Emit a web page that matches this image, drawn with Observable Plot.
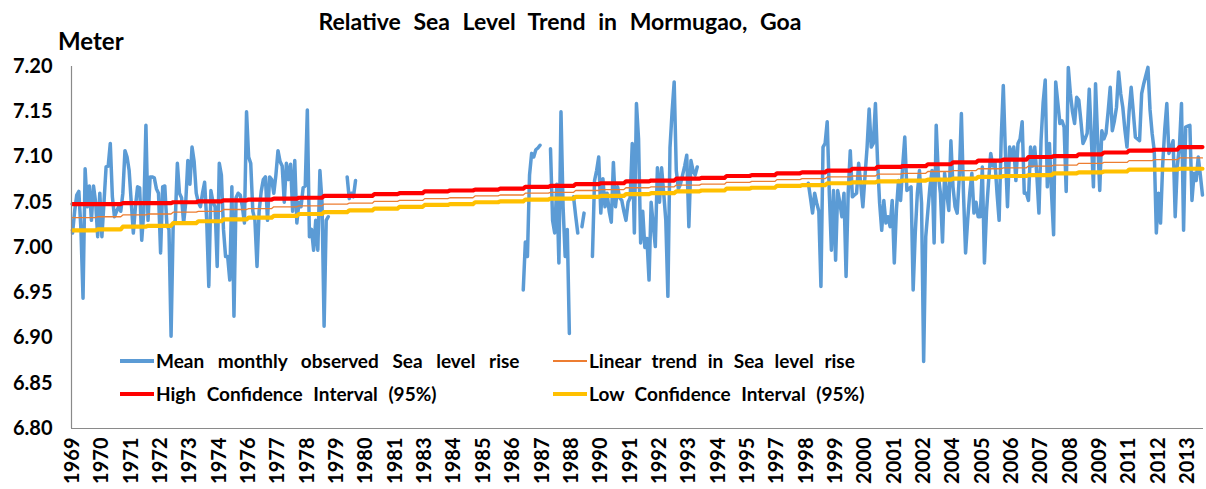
<!DOCTYPE html>
<html><head><meta charset="utf-8">
<script src="https://cdn.jsdelivr.net/npm/d3@7"></script>
<script src="https://cdn.jsdelivr.net/npm/@observablehq/plot@0.6"></script>
<style>
body{margin:0;background:#fff;}
#wrap{position:relative;width:1206px;height:489px;font-family:Lato,"Open Sans",sans-serif;font-weight:700;color:#000;overflow:hidden;}
#wrap svg{position:absolute;left:0;top:0;}
#wrap svg text{font-weight:700;}
.t{position:absolute;white-space:nowrap;line-height:1;font-weight:700;}
.sw{position:absolute;}
</style></head><body><div id="wrap"></div>
<script>
// ---- data ----
const startYear = 1969;
const totalMonths = 540; // Jan 1969 .. Dec 2013
const tickStepMonths = 14;
const tickLabels = ["1969","1970","1971","1972","1973","1974","1976","1977","1978","1979","1980","1981","1983","1984","1985","1986","1987","1988","1990","1991","1992","1993","1994","1995","1997","1998","1999","2000","2001","2002","2004","2005","2006","2007","2008","2009","2011","2012","2013"];
const yTicks = [6.80,6.85,6.90,6.95,7.00,7.05,7.10,7.15,7.20];

// mean monthly observed sea level (m); segment 1 starts Jan 1969
const seg1Start = 0;
const obsSeg1 = [
 7.016,7.040,7.058,7.062,7.020,6.944,7.087,7.045,7.068,7.030,7.068,7.050,
 7.012,7.060,7.012,7.050,7.089,7.090,7.115,7.056,7.034,7.040,7.045,7.040,
 7.060,7.107,7.100,7.085,7.050,7.016,7.045,7.067,7.066,7.008,7.040,7.135,
 7.030,7.078,7.078,7.077,7.065,7.060,6.994,7.067,7.068,7.025,7.020,6.902,
 7.025,7.030,7.093,7.060,7.055,7.027,7.050,7.096,7.070,7.111,7.095,7.060,
 7.050,7.045,7.060,7.072,7.030,6.957,7.063,7.050,7.045,6.979,7.093,7.080,
 7.020,6.990,6.990,6.964,7.067,6.924,7.055,7.060,7.058,7.045,7.027,7.150,
 7.100,7.093,7.040,7.030,6.979,7.040,7.062,7.075,7.078,7.030,7.078,7.075,
 7.060,7.080,7.107,7.095,7.090,7.050,7.093,7.075,7.092,7.040,7.096,7.027,
 7.050,7.045,7.066,7.068,7.152,7.012,7.020,6.997,7.030,6.997,7.085,7.050,
 6.913,7.030,7.034,null,null,null,null,null,null,null,null,7.078,
 7.054,7.060,7.056,7.074
];
// segment 2 starts Dec 1986
const seg2Start = 215;
const obsSeg2 = [
 6.953,
 7.006,6.990,7.080,7.104,7.100,7.108,7.110,7.113,null,null,null,null,
 7.109,7.030,7.016,7.070,6.983,7.150,7.045,6.990,7.020,6.905,null,7.056,
 7.035,7.016,null,7.023,7.038,null,null,null,6.990,7.074,7.085,7.100,
 7.038,7.076,7.045,7.060,7.040,7.028,7.094,7.045,7.067,7.055,7.052,7.040,
 7.030,7.050,7.055,7.115,7.016,7.159,7.120,7.005,7.040,7.000,7.010,6.964,
 7.050,7.025,7.001,7.088,7.050,7.088,7.060,7.030,6.946,7.110,7.150,7.183,
 7.085,7.065,7.070,7.080,7.090,7.102,7.023,7.096,7.085,7.080,7.089
];
// segment 3 starts Apr 1998
const seg3Start = 351;
const obsSeg3 = [
 7.071,7.055,7.038,7.060,7.049,7.040,6.957,7.111,7.115,
 7.139,7.060,6.997,7.063,6.986,7.063,7.050,7.034,7.060,6.968,7.060,7.107,
 7.056,7.058,7.060,7.093,7.070,7.045,7.078,7.110,7.153,7.111,7.115,7.159,
 7.096,7.049,7.019,7.052,7.027,7.034,7.023,7.052,6.983,7.041,7.074,7.052,
 7.090,7.122,7.063,7.065,7.067,6.953,7.016,7.060,7.085,7.049,6.874,7.012,
 7.040,7.067,7.085,7.005,7.135,7.080,7.060,7.006,7.082,7.060,7.041,7.118,
 7.067,7.045,7.038,7.078,7.148,7.060,6.994,7.030,7.060,7.082,7.038,7.050,
 7.034,7.034,7.089,6.983,7.040,7.074,7.104,7.090,7.096,7.060,7.030,7.120,
 7.179,7.104,7.045,7.111,7.100,7.111,7.074,7.115,7.120,7.139,7.060,7.060,
 7.052,7.111,7.090,7.111,7.080,7.038,7.118,7.160,7.185,7.067,7.115,7.060,
 7.014,7.183,7.160,7.137,7.140,7.133,7.062,7.199,7.170,7.150,7.137,7.166,
 7.163,7.140,7.115,7.120,7.126,7.175,7.120,7.067,7.181,7.120,7.063,7.129,
 7.120,7.126,7.150,7.177,7.129,7.140,7.155,7.194,7.170,7.155,7.130,7.111,
 7.150,7.177,7.150,7.122,7.120,7.118,7.170,7.181,7.190,7.199,7.152,7.126,
 7.107,7.016,7.060,7.027,7.090,7.130,7.159,7.104,7.110,7.118,7.034,7.090,
 7.111,7.159,7.019,7.133,7.134,7.135,7.052,7.082,7.074,7.100,7.080,7.058
];
// yearly values 1969..2013
const trendYearly = [7.033,7.034,7.036,7.037,7.039,7.040,7.042,7.043,7.045,7.046,7.048,7.049,7.051,7.052,7.054,7.055,7.057,7.058,7.060,7.061,7.063,7.064,7.066,7.067,7.069,7.070,7.072,7.073,7.075,7.076,7.078,7.079,7.081,7.082,7.084,7.085,7.087,7.088,7.090,7.091,7.093,7.094,7.096,7.097,7.099];
const highYearly = [7.048,7.048,7.049,7.049,7.050,7.051,7.052,7.053,7.054,7.055,7.057,7.057,7.059,7.060,7.062,7.063,7.064,7.065,7.067,7.068,7.070,7.071,7.073,7.074,7.076,7.077,7.079,7.080,7.082,7.083,7.085,7.087,7.089,7.090,7.092,7.094,7.096,7.097,7.100,7.101,7.103,7.105,7.107,7.108,7.111];
const lowYearly = [7.019,7.020,7.023,7.024,7.027,7.029,7.031,7.033,7.035,7.037,7.039,7.041,7.043,7.045,7.047,7.048,7.050,7.051,7.053,7.054,7.056,7.057,7.059,7.060,7.062,7.063,7.065,7.066,7.068,7.069,7.071,7.072,7.073,7.074,7.075,7.076,7.078,7.079,7.080,7.082,7.083,7.084,7.086,7.086,7.087];

const seriesNames = ["Mean monthly observed Sea level rise","Linear trend in Sea level rise","High Confidence Interval (95%)","Low Confidence Interval (95%)"];
const seriesColors = ["#5B9BD5","#ED7D31","#FF0000","#FFC000"];

// ---- build tables ----
const observed = [];
for (let m = 0; m < totalMonths; m++) observed.push({m, v: null});
[[seg1Start, obsSeg1],[seg2Start, obsSeg2],[seg3Start, obsSeg3]].forEach(([s, arr]) => {
  arr.forEach((v, k) => { observed[s + k].v = v; });
});
const trendRows = d3.range(totalMonths).map(m => {
  const yi = Math.floor(m / 12);
  return {m, trend: trendYearly[yi], high: highYearly[yi], low: lowYearly[yi]};
});
const tickPos = tickLabels.map((_, k) => k * tickStepMonths + 0.5);
const tickMap = new Map(tickPos.map((p, k) => [p, tickLabels[k]]));

const chart = Plot.plot({
  width: 1206, height: 489,
  marginLeft: 71, marginRight: 3, marginTop: 66, marginBottom: 61,
  x: {domain: [0, totalMonths]},
  y: {domain: [6.8, 7.2]},
  style: {fontFamily: "Lato, sans-serif", fontSize: "20px", color: "#000", background: "transparent", overflow: "visible"},
  marks: [
    Plot.axisY({ticks: yTicks, tickFormat: d => d.toFixed(2), tickSize: 0, tickPadding: 19, label: null, fontSize: 20, fontWeight: "bold"}),
    Plot.axisX({ticks: tickPos, tickFormat: d => String(tickMap.get(d)), tickRotate: -90, tickSize: 0, tickPadding: 9, label: null, fontSize: 20, fontWeight: "bold"}),
    Plot.line(observed, {x: d => d.m + 0.5, y: "v", stroke: seriesColors[0], strokeWidth: 3.5, strokeLinejoin: "round", strokeLinecap: "round"}),
    Plot.line(trendRows, {x: d => d.m + 0.5, y: "trend", stroke: seriesColors[1], strokeWidth: 1.3}),
    Plot.line(trendRows, {x: d => d.m + 0.5, y: "high", stroke: seriesColors[2], strokeWidth: 4.2}),
    Plot.line(trendRows, {x: d => d.m + 0.5, y: "low", stroke: seriesColors[3], strokeWidth: 4.2}),
    Plot.ruleX([0], {stroke: "#8a8a8a", strokeWidth: 1.2}),
    Plot.ruleY([6.8], {stroke: "#8a8a8a", strokeWidth: 1.2})
  ]
});
const wrap = document.getElementById("wrap");
wrap.appendChild(chart);

function addText(txt, left, centerY, size, extra) {
  const d = document.createElement("div");
  d.className = "t";
  d.textContent = txt;
  d.style.left = left + "px";
  d.style.top = (centerY - size * 0.53) + "px";
  d.style.fontSize = size + "px";
  Object.assign(d.style, extra || {});
  wrap.appendChild(d);
  return d;
}
function addSwatch(left, centerY, w, h, color) {
  const d = document.createElement("div");
  d.className = "sw";
  d.style.left = left + "px"; d.style.top = (centerY - h / 2) + "px";
  d.style.width = w + "px"; d.style.height = h + "px"; d.style.background = color;
  wrap.appendChild(d);
}
// title
const title = addText("Relative Sea Level Trend in Mormugao, Goa", 0, 22, 23, {wordSpacing: "7px"});
title.style.left = "0px"; title.style.width = "1120px"; title.style.textAlign = "center";
addText("Meter", 58, 42, 24);
// legend
const legendRows = [[0, 1], [2, 3]];
const rowY = [361, 394];
const colX = [120, 553];
const swH = [4, 1.4, 4.5, 4.5];
legendRows.forEach((row, r) => row.forEach((si, c) => {
  addSwatch(colX[c], rowY[r], 34, swH[si], seriesColors[si]);
  addText(seriesNames[si], colX[c] + 36, rowY[r], 19, {wordSpacing: si === 0 ? "9px" : "6px"});
}));
</script></body></html>
